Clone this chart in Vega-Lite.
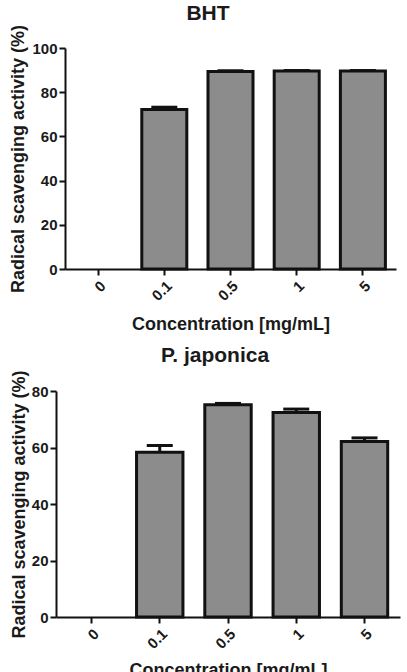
{
  "$schema": "https://vega.github.io/schema/vega-lite/v6.json",
  "padding": {"left": 9, "top": 3, "right": 4, "bottom": 0},
  "background": "white",
  "config": {
    "view": {"stroke": null},
    "font": "Liberation Sans",
    "title": {"font": "Liberation Sans", "fontSize": 21, "fontWeight": "bold", "color": "#1a1a1a"},
    "axis": {
      "labelFont": "Liberation Sans",
      "labelFontSize": 15,
      "labelFontWeight": "bold",
      "labelColor": "#1a1a1a",
      "titleFont": "Liberation Sans",
      "titleFontSize": 18,
      "titleFontWeight": "bold",
      "titleColor": "#1a1a1a",
      "domainColor": "#111111",
      "domainWidth": 2,
      "tickColor": "#111111",
      "tickWidth": 2,
      "tickSize": 6,
      "grid": false
    }
  },
  "datasets": {
    "dpph": [
      {"panel": "BHT", "conc": "0", "activity": 0, "sem": 0},
      {"panel": "BHT", "conc": "0.1", "activity": 72.2, "sem": 1.0},
      {"panel": "BHT", "conc": "0.5", "activity": 89.4, "sem": 0.3},
      {"panel": "BHT", "conc": "1", "activity": 89.6, "sem": 0.2},
      {"panel": "BHT", "conc": "5", "activity": 89.6, "sem": 0.2},
      {"panel": "P. japonica", "conc": "0", "activity": 0, "sem": 0},
      {"panel": "P. japonica", "conc": "0.1", "activity": 58.3, "sem": 2.4},
      {"panel": "P. japonica", "conc": "0.5", "activity": 75.1, "sem": 0.5},
      {"panel": "P. japonica", "conc": "1", "activity": 72.4, "sem": 1.2},
      {"panel": "P. japonica", "conc": "5", "activity": 62.1, "sem": 1.3}
    ]
  },
  "vconcat": [
    {
      "title": {"text": "BHT", "offset": 0, "dx": -18},
      "width": 340,
      "height": 221,
      "data": {"name": "dpph"},
      "transform": [
        {"filter": "datum.panel === 'BHT'"},
        {"calculate": "datum.activity + datum.sem", "as": "upper"}
      ],
      "encoding": {
        "x": {
          "field": "conc",
          "type": "nominal",
          "scale": {"domain": ["0", "0.1", "0.5", "1", "5"], "range": [9, 340], "paddingInner": 0.32, "paddingOuter": 0.16},
          "axis": {"title": "Concentration [mg/mL]", "labelAngle": -45, "bandPosition": 0.5, "labelPadding": 3, "titlePadding": 12}
        }
      },
      "layer": [
        {
          "transform": [{"filter": "datum.activity > 0"}],
          "mark": {"type": "rule", "stroke": "#111111", "strokeWidth": 3},
          "encoding": {
            "y": {"field": "activity", "type": "quantitative"},
            "y2": {"field": "upper"}
          }
        },
        {
          "transform": [{"filter": "datum.activity > 0"}],
          "mark": {"type": "tick", "color": "#111111", "thickness": 3, "size": 26, "opacity": 1},
          "encoding": {
            "y": {"field": "upper", "type": "quantitative"}
          }
        },
        {
          "transform": [{"filter": "datum.activity > 0"}],
          "mark": {"type": "bar", "fill": "#8c8c8c", "stroke": "#111111", "strokeWidth": 3},
          "encoding": {
            "y": {
              "field": "activity",
              "type": "quantitative",
              "scale": {"domain": [0, 100]},
              "axis": {"title": "Radical scavenging activity (%)", "values": [0, 20, 40, 60, 80, 100], "offset": -9, "titlePadding": 4, "labelPadding": 2}
            }
          }
        }
      ]
    },
    {
      "title": {"text": "P. japonica", "offset": 4, "dx": -13},
      "width": 344,
      "height": 226,
      "data": {"name": "dpph"},
      "transform": [
        {"filter": "datum.panel === 'P. japonica'"},
        {"calculate": "datum.activity + datum.sem", "as": "upper"}
      ],
      "encoding": {
        "x": {
          "field": "conc",
          "type": "nominal",
          "scale": {"domain": ["0", "0.1", "0.5", "1", "5"], "paddingInner": 0.32, "paddingOuter": 0.18},
          "axis": {"title": "Concentration [mg/mL]", "labelAngle": -45, "bandPosition": 0.5, "labelPadding": 3, "titlePadding": 10}
        }
      },
      "layer": [
        {
          "transform": [{"filter": "datum.activity > 0"}],
          "mark": {"type": "rule", "stroke": "#111111", "strokeWidth": 3},
          "encoding": {
            "y": {"field": "activity", "type": "quantitative"},
            "y2": {"field": "upper"}
          }
        },
        {
          "transform": [{"filter": "datum.activity > 0"}],
          "mark": {"type": "tick", "color": "#111111", "thickness": 3, "size": 26, "opacity": 1},
          "encoding": {
            "y": {"field": "upper", "type": "quantitative"}
          }
        },
        {
          "transform": [{"filter": "datum.activity > 0"}],
          "mark": {"type": "bar", "fill": "#8c8c8c", "stroke": "#111111", "strokeWidth": 3},
          "encoding": {
            "y": {
              "field": "activity",
              "type": "quantitative",
              "scale": {"domain": [0, 80]},
              "axis": {"title": "Radical scavenging activity (%)", "values": [0, 20, 40, 60, 80], "titlePadding": 3, "labelPadding": 2}
            }
          }
        }
      ]
    }
  ],
  "spacing": 10
}
